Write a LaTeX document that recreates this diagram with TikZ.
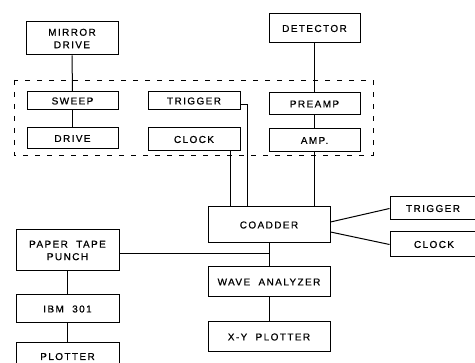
\documentclass[tikz,border=0pt]{standalone}
\usepackage{fontspec}
\newfontfamily\lettering[LetterSpace=14,FakeBold=0.6]{Liberation Sans}

\begin{document}
\begin{tikzpicture}[x=1pt,y=-1pt,line width=1pt,
    unit/.style={draw,rectangle,inner sep=0pt,align=center,
      font=\lettering\fontsize{10}{12.5}\selectfont}]
      \clip (0,0) rectangle (475,363);
      \draw[line width=0.7pt,dash pattern=on 5pt off 7pt] (14,80) rectangle (373,155);

      \node[unit,minimum width=92,minimum height=33] (mirror) at (72,38.5) {MIRROR\\DRIVE};
      \node[unit,minimum width=91,minimum height=18] (sweep) at (72.5,101) {SWEEP};
      \node[unit,minimum width=91,minimum height=21] (drive) at (72.5,138.5) {DRIVE};
      \node[unit,minimum width=92,minimum height=18] (trig) at (194,101) {TRIGGER};
      \node[unit,minimum width=92,minimum height=23] (clk) at (194,139.5) {CLOCK};
      \node[unit,minimum width=91,minimum height=29] (detector) at (314.5,28.5) {DETECTOR};
      \node[unit,minimum width=91,minimum height=22] (preamp) at (314.5,104) {PREAMP};
      \node[unit,minimum width=91,minimum height=23] (amp) at (314.5,140.5) {AMP.};
      \node[unit,minimum width=122,minimum height=36] (coadder) at (269,225) {COADDER};
      \node[unit,minimum width=110,minimum height=23] (trigout) at (445,208.5) {TRIGGER\hspace{24pt}};
      \node[unit,minimum width=110,minimum height=25] (clkout) at (445,244.5) {CLOCK\hspace{22pt}};
      \node[unit,minimum width=122,minimum height=30] (wave) at (269,282) {WAVE\ \ ANALYZER};
      \node[unit,minimum width=122,minimum height=30] (xy) at (269,337) {X-Y\ \ PLOTTER};
      \node[unit,minimum width=103,minimum height=41] (paper) at (67.5,250.5) {PAPER\ \ TAPE\\PUNCH};
      \node[unit,minimum width=103,minimum height=28] (ibm) at (67.5,309) {IBM\ \ 301};
      \node[unit,minimum width=103,minimum height=37,text depth=10pt] (plotter) at (67.5,361.5) {PLOTTER};

      \draw (mirror.south) -- (sweep.north);
      \draw (sweep) -- (drive);
      \draw (detector) -- (preamp);
      \draw (preamp) -- (amp);
      \draw ([xshift=36pt]clk.south) -- ([xshift=36pt]clk.south |- coadder.north);
      \draw ([yshift=-4pt]trig.east) -| ([xshift=-22pt]coadder.north);
      \draw (amp.south) -- (amp.south |- coadder.north);
      \draw ([yshift=3pt]coadder.east) -- (trigout.west);
      \draw ([yshift=-7pt]coadder.east) -- (clkout.west);
      \draw (coadder) -- (wave);
      \draw ([yshift=-3pt]paper.east) -- ([yshift=-3pt]paper.east -| wave.north);
      \draw (wave) -- (xy);
      \draw (paper) -- (ibm);
      \draw (ibm) -- (plotter);
    \end{tikzpicture}
\end{document}
